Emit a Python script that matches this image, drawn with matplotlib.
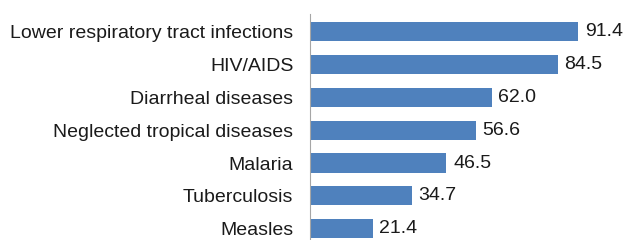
import matplotlib.pyplot as plt

plt.rcParams['font.family'] = ['Liberation Sans', 'DejaVu Sans']

diseases = ['Lower respiratory tract infections', 'HIV/AIDS', 'Diarrheal diseases',
            'Neglected tropical diseases', 'Malaria', 'Tuberculosis', 'Measles']
values = [91.4, 84.5, 62.0, 56.6, 46.5, 34.7, 21.4]

fig = plt.figure(figsize=(6.25, 2.4), dpi=100)
ax = fig.add_axes([0.496, 0.0, 0.469, 226 / 240])

pos = list(range(len(diseases)))
ax.barh(pos, values, height=0.58, color='#4f81bd')
for p, v in zip(pos, values):
    ax.text(v + 2.3, p, f'{v:.1f}', va='center', ha='left', fontsize=14, color='#1a1a1a')

ax.set_yticks(pos)
ax.set_yticklabels(diseases, fontsize=14, color='#1a1a1a')
ax.tick_params(axis='y', length=0, pad=12)
ax.set_xticks([])
ax.set_xlim(0, 100)
ax.set_ylim(6.34, -0.53)
for s in ['top', 'right', 'bottom']:
    ax.spines[s].set_visible(False)
ax.spines['left'].set_color('#a6a6a6')

fig.savefig('out.png', dpi=100)
